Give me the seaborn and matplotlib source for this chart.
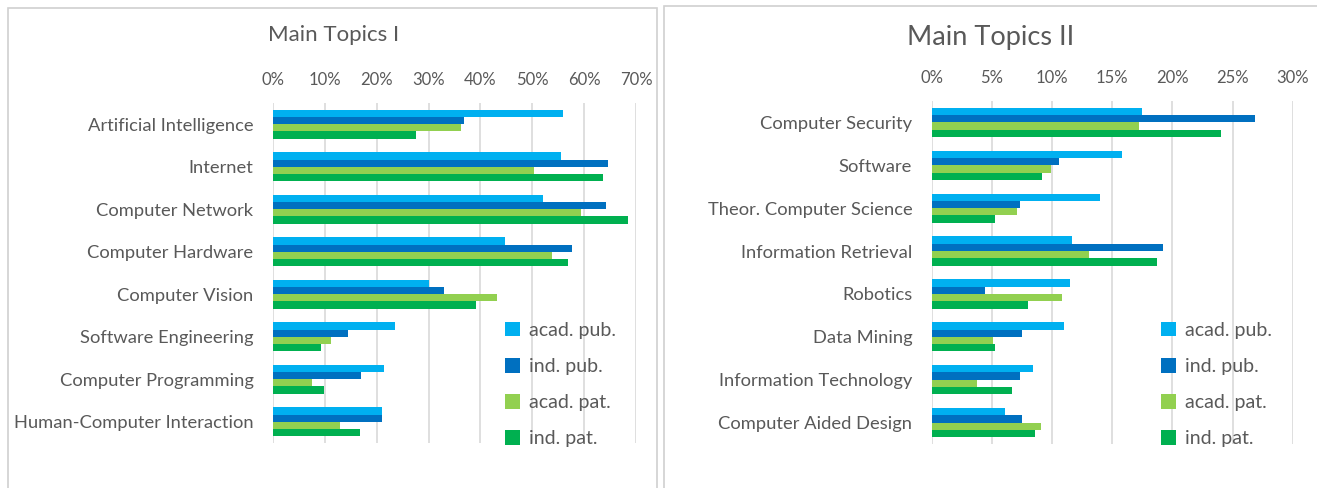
import pandas as pd
import matplotlib.pyplot as plt
import seaborn as sns
from matplotlib.patches import Rectangle
from matplotlib.ticker import PercentFormatter

# values (share of documents)
series = ['acad. pub.', 'ind. pub.', 'acad. pat.', 'ind. pat.']
colors = ['#00B0F0', '#0070C0', '#92D050', '#00B050']

topics_1 = ['Artificial Intelligence', 'Internet', 'Computer Network', 'Computer Hardware',
            'Computer Vision', 'Software Engineering', 'Computer Programming',
            'Human-Computer Interaction']
acad_pub_1 = [0.560, 0.556, 0.521, 0.448, 0.301, 0.236, 0.214, 0.210]
ind_pub_1 = [0.369, 0.646, 0.643, 0.577, 0.330, 0.145, 0.169, 0.211]
acad_pat_1 = [0.363, 0.504, 0.594, 0.538, 0.432, 0.111, 0.075, 0.129]
ind_pat_1 = [0.275, 0.637, 0.684, 0.569, 0.392, 0.092, 0.098, 0.167]

topics_2 = ['Computer Security', 'Software', 'Theor. Computer Science', 'Information Retrieval',
            'Robotics', 'Data Mining', 'Information Technology', 'Computer Aided Design']
acad_pub_2 = [0.175, 0.158, 0.140, 0.117, 0.115, 0.110, 0.084, 0.061]
ind_pub_2 = [0.269, 0.106, 0.073, 0.192, 0.044, 0.075, 0.073, 0.075]
acad_pat_2 = [0.172, 0.099, 0.071, 0.131, 0.108, 0.051, 0.038, 0.091]
ind_pat_2 = [0.240, 0.092, 0.053, 0.187, 0.080, 0.053, 0.067, 0.086]


def to_long(topics, *cols):
    frames = []
    for name, vals in zip(series, cols):
        frames.append(pd.DataFrame({'Topic': topics, 'Series': name, 'Share': vals}))
    return pd.concat(frames, ignore_index=True)


df1 = to_long(topics_1, acad_pub_1, ind_pub_1, acad_pat_1, ind_pat_1)
df2 = to_long(topics_2, acad_pub_2, ind_pub_2, acad_pat_2, ind_pat_2)

sns.set_style('white')
plt.rcParams['font.family'] = ['Lato', 'DejaVu Sans']
TXT = '#595959'

fig = plt.figure(figsize=(13.17, 4.88), dpi=100)

# panel frames
fig.patches.append(Rectangle((8 / 1317, -0.02), 649 / 1317, 1 - 8 / 488 + 0.02,
                             transform=fig.transFigure, fill=False, ec='#D0D0D0', lw=1.2))
fig.patches.append(Rectangle((664 / 1317, -0.02), 660 / 1317, 1 - 6 / 488 + 0.02,
                             transform=fig.transFigure, fill=False, ec='#D0D0D0', lw=1.2))

ax1 = fig.add_axes([273 / 1317, 1 - 443 / 488, 363 / 1317, 340 / 488])
ax2 = fig.add_axes([931.7 / 1317, 1 - 444 / 488, 361 / 1317, 343 / 488])

setups = [(ax1, df1, topics_1, 0.70, 0.10), (ax2, df2, topics_2, 0.30, 0.05)]
for ax, df, topics, xmax, step in setups:
    sns.barplot(data=df, y='Topic', x='Share', hue='Series', order=topics,
                hue_order=series, palette=colors, orient='h', width=0.68,
                linewidth=0, saturation=1, ax=ax, legend=True)
    ax.set_xlim(0, xmax)
    ax.set_xticks([i * step for i in range(int(round(xmax / step)) + 1)])
    ax.xaxis.set_major_formatter(PercentFormatter(1.0, decimals=0))
    ax.xaxis.tick_top()
    ax.tick_params(axis='x', length=0, pad=11, labelsize=12, labelcolor=TXT)
    ax.tick_params(axis='y', length=0, pad=14, labelsize=13.2, labelcolor=TXT)
    ax.grid(axis='x', color='#D9D9D9', lw=1.2)
    ax.set_axisbelow(True)
    for s in ax.spines.values():
        s.set_visible(False)
    ax.set_xlabel('')
    ax.set_ylabel('')
    ax.get_legend().remove()

handles, labels = ax1.get_legend_handles_labels()
for x0 in (487 / 1317, 1143 / 1317):
    fig.legend(handles, labels, loc='upper left', bbox_to_anchor=(x0, 1 - 304 / 488),
               frameon=False, fontsize=14, labelcolor=TXT, handlelength=0.8,
               handleheight=0.8, handletextpad=0.45, labelspacing=0.98)

fig.text(268 / 1317, 1 - 35 / 488, 'Main Topics I', fontsize=16, color=TXT, va='center')
fig.text(907 / 1317, 1 - 38 / 488, 'Main Topics II', fontsize=19.5, color=TXT, va='center')

fig.savefig('out.png', dpi=100)
